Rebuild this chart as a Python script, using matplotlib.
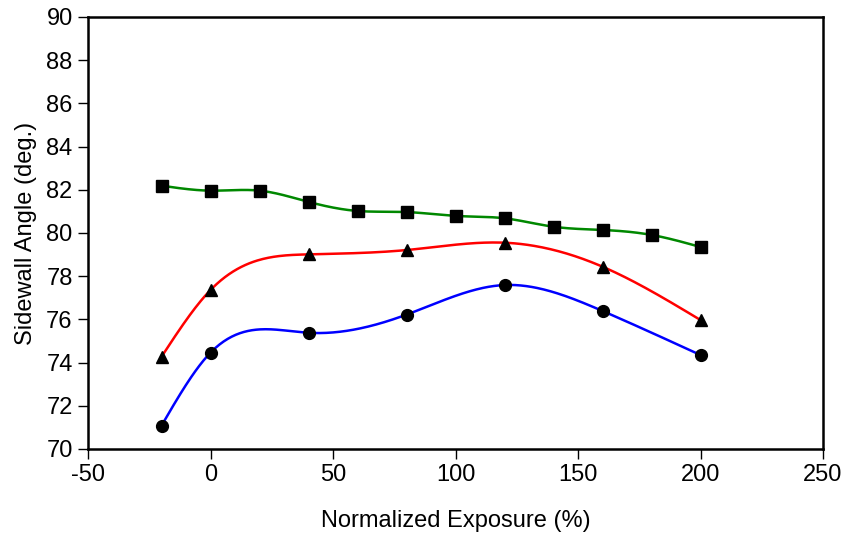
import matplotlib

matplotlib.use("Agg")

import matplotlib.pyplot as plt
import numpy as np

plt.rcParams["font.family"] = ["Liberation Sans", "DejaVu Sans"]

# data
square_x = [-20, 0, 20, 40, 60, 80, 100, 120, 140, 160, 180, 200]
square_y = [82.19, 81.96, 81.96, 81.44, 81.02, 80.97, 80.79, 80.68, 80.29, 80.14, 79.91, 79.35]

triangle_x = [-20, 0, 40, 80, 120, 160, 200]
triangle_y = [74.27, 77.36, 79.01, 79.21, 79.55, 78.44, 75.97]

circle_x = [-20, 0, 40, 80, 120, 160, 200]
circle_y = [71.08, 74.46, 75.38, 76.22, 77.59, 76.39, 74.35]

x_ticks = [-50, 0, 50, 100, 150, 200, 250]
y_ticks = [70, 72, 74, 76, 78, 80, 82, 84, 86, 88, 90]


def spline_line(xs, ys, n=400):
    """Smooth line through the markers (natural cubic spline)."""
    x = np.asarray(xs, float)
    y = np.asarray(ys, float)
    k = len(x)
    h = np.diff(x)
    a = np.zeros((k, k))
    b = np.zeros(k)
    a[0, 0] = a[-1, -1] = 1.0
    for i in range(1, k - 1):
        a[i, i - 1] = h[i - 1]
        a[i, i] = 2 * (h[i - 1] + h[i])
        a[i, i + 1] = h[i]
        b[i] = 6 * ((y[i + 1] - y[i]) / h[i] - (y[i] - y[i - 1]) / h[i - 1])
    m = np.linalg.solve(a, b)
    xx = np.linspace(x[0], x[-1], n)
    idx = np.clip(np.searchsorted(x, xx) - 1, 0, k - 2)
    x0, x1 = x[idx], x[idx + 1]
    hh = x1 - x0
    t0 = x1 - xx
    t1 = xx - x0
    yy = (m[idx] * t0 ** 3 + m[idx + 1] * t1 ** 3) / (6 * hh) \
        + (y[idx] / hh - m[idx] * hh / 6) * t0 \
        + (y[idx + 1] / hh - m[idx + 1] * hh / 6) * t1
    return xx, yy


fig = plt.figure(figsize=(8.43, 5.34), dpi=100)
ax = fig.add_axes([0.1044, 0.1592, 0.8719, 0.809])

series = [
    (square_x, square_y, "#008800", "s"),
    (triangle_x, triangle_y, "#ff0000", "^"),
    (circle_x, circle_y, "#0000ff", "o"),
]
for xs, ys, color, marker in series:
    sx, sy = spline_line(xs, ys)
    ax.plot(sx, sy, color=color, lw=1.8, zorder=2)
    ax.plot(xs, ys, ls="none", marker=marker, color="black", ms=8.5, zorder=3)

ax.set_xlim(-50, 250)
ax.set_ylim(70, 90)
ax.set_xticks(x_ticks)
ax.set_xticklabels([str(v) for v in x_ticks])
ax.set_yticks(y_ticks)
ax.tick_params(direction="out", length=7, width=1, labelsize=17, pad=4, colors="black")
for side in ax.spines.values():
    side.set_linewidth(1.8)

ax.set_xlabel("Normalized Exposure (%)", fontsize=17, labelpad=17)
ax.set_ylabel("Sidewall Angle (deg.)", fontsize=17, labelpad=7)

fig.savefig("out.png", dpi=100)
